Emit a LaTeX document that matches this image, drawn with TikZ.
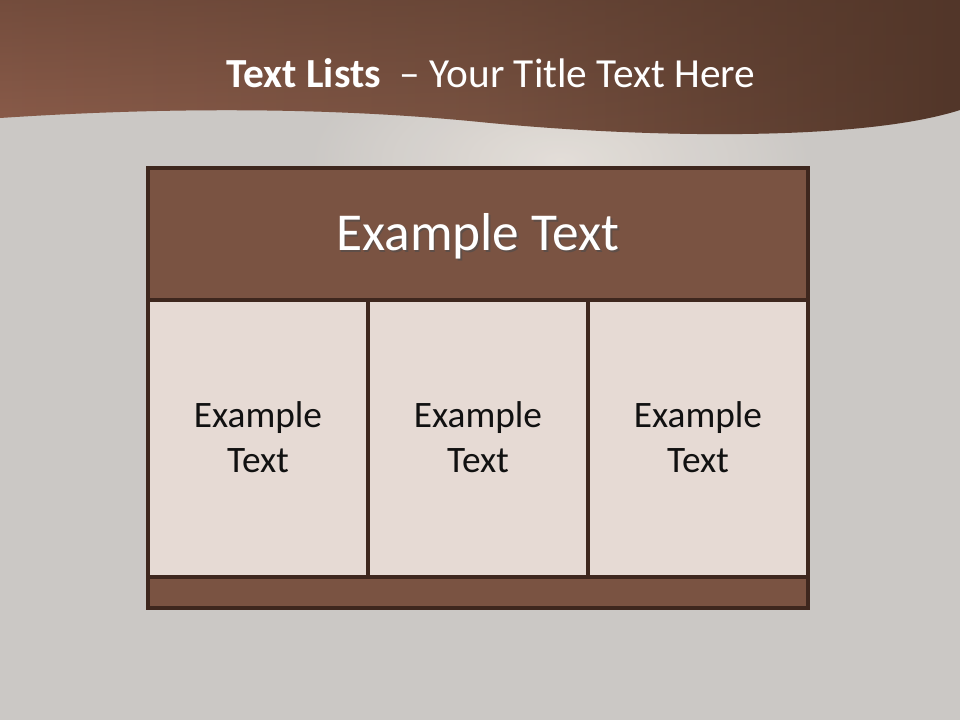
\documentclass[tikz,border=0pt]{standalone}
\usepackage{fontspec}
\setmainfont{Carlito}
\usetikzlibrary{fadings}
\definecolor{bgGray}{HTML}{CBC8C5}
\definecolor{bgLight}{HTML}{E6E0DA}
\definecolor{bandL}{HTML}{8E5E4C}
\definecolor{bandM}{HTML}{7A5342}
\definecolor{bandD}{HTML}{523629}
\definecolor{hdrFill}{HTML}{7A5342}
\definecolor{cellFill}{HTML}{E6DAD4}
\definecolor{edgeCol}{HTML}{3E271E}
\definecolor{txtDark}{HTML}{111111}
\tikzset{
  boxline/.style={draw=edgeCol, line width=2.5pt},
  hdrbox/.style={boxline, fill=hdrFill},
  cellbox/.style={boxline, fill=cellFill},
  celltext/.style={font=\fontsize{28}{34}\selectfont, text=txtDark, align=center},
  hdrtext/.style={font=\fontsize{40}{48}\selectfont, text=white},
  hdrshadow/.style={font=\fontsize{40}{48}\selectfont, text=black!70, opacity=0.6},
}
\begin{document}
\begin{tikzpicture}[x=0.75pt,y=-0.75pt]
\useasboundingbox (0,0) rectangle (960,720);
% background
\fill[bgGray] (0,0) rectangle (960,720);
\shade[inner color=bgLight, outer color=bgGray, opacity=0.9] (560,160) ellipse (260 and 120);
% top band
\begin{scope}
\clip (0,0) -- (0,118) .. controls (150,108) and (320,106) .. (480,122)
  .. controls (640,138) and (860,142) .. (960,110) -- (960,0) -- cycle;
\shade[left color=bandL, right color=bandD, middle color=bandM] (0,0) rectangle (960,150);
\fill[bandD, path fading=south, opacity=0.45] (0,-5) rectangle (960,150);
\end{scope}
% title
\node[anchor=base, text=white, font=\fontsize{31}{37}\selectfont] (title) at (491,88)
  {\textbf{Text Lists}\ \ – Your Title Text Here};
% header
\path[hdrbox] (148,168) rectangle (808,300);
\coordinate (hdr) at (478,236);
\node[hdrshadow] (hdrs) at ([shift={(1.5,2)}]hdr) {Example Text};
\node[hdrtext] (hdrt) at (hdr) {Example Text};
% cells
\path[cellbox] (148,300) rectangle (368,577);
\path[cellbox] (368,300) rectangle (588,577);
\path[cellbox] (588,300) rectangle (808,577);
\node[celltext] (c1) at (258,437) {Example\\Text};
\node[celltext] (c2) at (478,437) {Example\\Text};
\node[celltext] (c3) at (698,437) {Example\\Text};
% footer bar
\path[hdrbox] (148,577) rectangle (808,608);
\end{tikzpicture}
\end{document}
